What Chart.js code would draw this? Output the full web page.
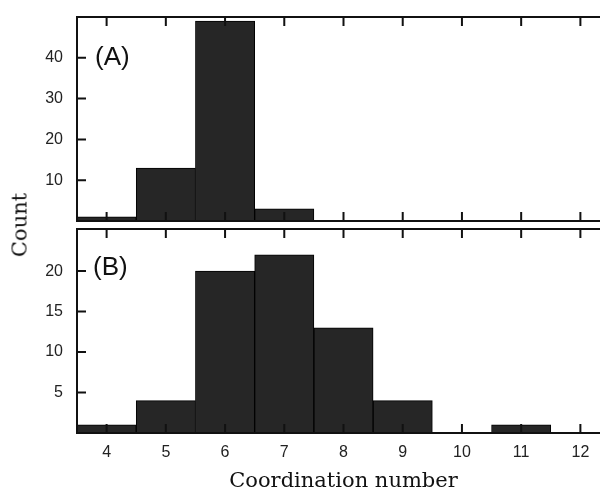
<!DOCTYPE html>
<html>
<head>
<meta charset="utf-8">
<script src="https://cdn.jsdelivr.net/npm/chart.js@4"></script>
<style>
	html, body { margin: 0; padding: 0; background: #fff; overflow: hidden; }
	#wrap { position: relative; width: 600px; height: 495px; overflow: hidden; }
	.box { position: absolute; left: 0; width: 610px; }
	#boxA { top: 0; height: 222px; }
	#boxB { top: 220px; height: 275px; }
	.panel { position: absolute; font-family: "Liberation Sans", Arial, sans-serif; font-size: 26px; color: #111; line-height: 1; }
	#count {
		position: absolute; left: 20px; top: 225px; white-space: nowrap; line-height: 1;
		font-family: "DejaVu Serif", serif; font-size: 21px; color: #111;
		transform: translate(-50%, -50%) rotate(-90deg);
	}
</style>
</head>
<body>
<div id="wrap">
	<div class="box" id="boxA"><canvas id="histA"></canvas></div>
	<div class="box" id="boxB"><canvas id="histB"></canvas></div>
	<div class="panel" style="left:95px;top:43px">(A)</div>
	<div class="panel" style="left:93px;top:253px">(B)</div>
	<div id="count">Count</div>
</div>
<script>
const bins = [4, 5, 6, 7, 8, 9, 10, 11, 12]
const countsA = [1, 13, 49, 3, 0, 0, 0, 0, 0]
const countsB = [1, 4, 20, 22, 13, 4, 0, 1, 0]
const yTicksA = [10, 20, 30, 40]
const yTicksB = [5, 10, 15, 20]
const xTicks = [4, 5, 6, 7, 8, 9, 10, 11, 12]

const tickFont = { family: '"Liberation Sans", Arial, sans-serif', size: 16 }

// frame + inward tick marks like the original plot
const frameTicks = {
	id: 'frameTicks',
	afterDatasetsDraw(chart) {
		const { ctx, chartArea: a, scales: { x, y } } = chart
		ctx.save()
		ctx.strokeStyle = '#111'
		ctx.lineWidth = 2
		ctx.strokeRect(a.left, a.top, a.right - a.left, a.bottom - a.top)
		ctx.beginPath()
		xTicks.forEach(v => {
			const px = x.getPixelForValue(v)
			ctx.moveTo(px, a.top)
			ctx.lineTo(px, a.top + 9)
			ctx.moveTo(px, a.bottom)
			ctx.lineTo(px, a.bottom - 9)
		})
		y.ticks.forEach(t => {
			const py = y.getPixelForValue(t.value)
			ctx.moveTo(a.left, py)
			ctx.lineTo(a.left + 9, py)
		})
		ctx.stroke()
		ctx.restore()
	},
}

const makeHist = (id, counts, yMax, yTicks, bottom) => {
	const ctx = document.getElementById(id).getContext('2d')
	return new Chart(ctx, {
		type: 'bar',
		data: {
			datasets: [
				{
					data: bins.map((b, i) => ({ x: b, y: counts[i] })),
					backgroundColor: '#262626',
					borderColor: '#000',
					borderWidth: 1,
					barPercentage: 1,
					categoryPercentage: 1,
				},
			],
		},
		options: {
			responsive: true,
			maintainAspectRatio: false,
			animation: false,
			layout: { padding: bottom ? { top: 9, bottom: 0, left: 0, right: 0 } : { top: 17, bottom: 1, left: 0, right: 0 } },
			plugins: { legend: { display: false }, tooltip: { enabled: false } },
			scales: {
				x: {
					type: 'linear',
					min: 3.5,
					max: 12.5,
					offset: false,
					display: bottom,
					afterBuildTicks: s => { s.ticks = xTicks.map(v => ({ value: v })) },
					afterFit: s => {
						s.height = bottom ? 62 : 0
						s.paddingLeft = 0
						s.paddingRight = 0
					},
					grid: { display: false, drawTicks: false },
					border: { display: false },
					ticks: { padding: 10, font: tickFont, color: '#222', maxRotation: 0 },
					title: {
						display: true,
						text: 'Coordination number',
						font: { family: '"DejaVu Serif", serif', size: 21, lineHeight: 1.2 },
						color: '#111',
						padding: { top: 0, bottom: 1 },
					},
				},
				y: {
					min: 0,
					max: yMax,
					afterBuildTicks: s => { s.ticks = yTicks.map(v => ({ value: v })) },
					afterFit: s => {
						s.width = 77
						s.paddingTop = 0
						s.paddingBottom = 0
					},
					grid: { display: false, drawTicks: false },
					border: { display: false },
					ticks: { padding: 14, font: tickFont, color: '#222' },
				},
			},
		},
		plugins: [frameTicks],
	})
}

makeHist('histA', countsA, 50, yTicksA, false)
makeHist('histB', countsB, 25.2, yTicksB, true)
</script>
</body>
</html>
